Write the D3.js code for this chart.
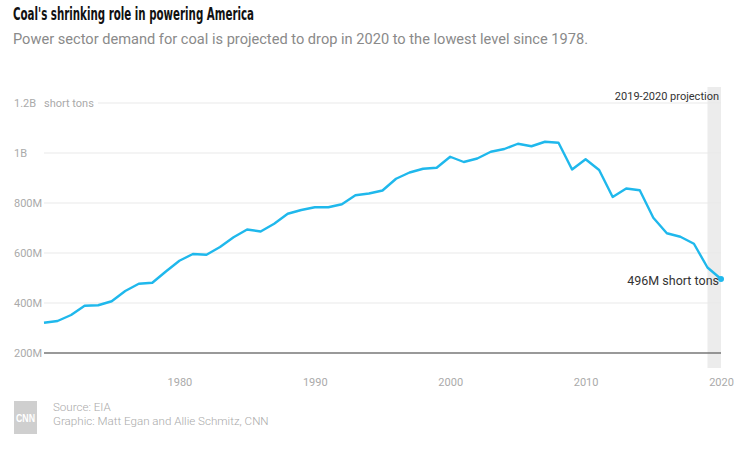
<!DOCTYPE html>
<html>
<head>
<meta charset="utf-8">
<script src="https://cdn.jsdelivr.net/npm/d3@7/dist/d3.min.js"></script>
<style>
  html, body { margin: 0; padding: 0; background: #fff; }
  svg { display: block; }
</style>
</head>
<body>
<svg id="chart" width="740" height="453"></svg>
<script>
// ---- Data (million short tons, power sector coal consumption) ----
const years = d3.range(1970, 2021);
const values = [
  321, 328, 352, 389, 391, 407, 448, 477, 481, 526,
  569, 596, 593, 624, 663, 694, 686, 717, 757, 772,
  783, 783, 795, 831, 838, 850, 897, 922, 937, 941,
  985, 964, 978, 1005, 1016, 1037, 1027, 1045, 1041, 934,
  975, 932, 824, 858, 851, 741, 679, 665, 637, 542,
  496
];
const yTicks = [200, 400, 600, 800, 1000, 1200];
const yTickLabels = ["200M", "400M", "600M", "800M", "1B", "1.2B"];
const xTicks = [1980, 1990, 2000, 2010, 2020];
const projectionStart = 2019;
const projectionEnd = 2020;

const title = "Coal's shrinking role in powering America";
const subtitle = "Power sector demand for coal is projected to drop in 2020 to the lowest level since 1978.";
const unitLabel = "short tons";
const projectionLabel = "2019-2020 projection";
const endLabel = "496M short tons";
const sourceLines = ["Source: EIA", "Graphic: Matt Egan and Allie Schmitz, CNN"];

const data = years.map((yr, i) => ({ year: yr, value: values[i] }));

(function () {
// ---- Layout ----
const svg = d3.select("#chart");
const mLeft = 44, mRight = 721, mTop = 103, mBottom = 353;
const x = d3.scaleLinear().domain([1970, 2020]).range([mLeft, mRight]);
const y = d3.scaleLinear().domain([200, 1200]).range([mBottom, mTop]);

const font = "Roboto, 'Noto Sans', sans-serif";

// Title & subtitle
svg.append("text")
  .attr("x", 13).attr("y", 20)
  .attr("font-family", "'Liberation Sans Narrow', 'DejaVu Sans Condensed', sans-serif")
  .attr("font-weight", "bold").attr("font-size", 17)
  .attr("fill", "#111")
  .attr("textLength", 241).attr("lengthAdjust", "spacingAndGlyphs")
  .text(title);

svg.append("text")
  .attr("x", 13).attr("y", 44)
  .attr("font-family", font)
  .attr("font-size", 14.5)
  .attr("fill", "#8a8a8a")
  .attr("textLength", 575).attr("lengthAdjust", "spacingAndGlyphs")
  .text(subtitle);

// Projection band
svg.append("rect")
  .attr("x", x(projectionStart)).attr("y", 87)
  .attr("width", x(projectionEnd) - x(projectionStart)).attr("height", 368 - 87)
  .attr("fill", "#ececec");

// Gridlines
const grid = svg.append("g");
yTicks.forEach((t) => {
  if (t === 200) return;
  grid.append("line")
    .attr("x1", t === 1200 ? 98 : mLeft).attr("x2", mRight)
    .attr("y1", y(t)).attr("y2", y(t))
    .attr("stroke", "#e9e9e9").attr("stroke-width", 1);
});

// Y axis labels (via d3 axis)
const yAxis = d3.axisLeft(y).tickValues(yTicks)
  .tickFormat((d, i) => yTickLabels[i]).tickSize(0).tickPadding(0);
const gy = svg.append("g").attr("transform", "translate(14,0)").call(yAxis);
gy.select(".domain").remove();
gy.selectAll("text")
  .attr("text-anchor", "start").attr("x", 0)
  .attr("font-family", font).attr("font-size", 11)
  .attr("fill", "#aaa");

svg.append("text")
  .attr("x", 44).attr("y", y(1200)).attr("dy", "0.32em")
  .attr("font-family", font).attr("font-size", 11)
  .attr("fill", "#aaa")
  .text(unitLabel);

// Baseline
svg.append("line")
  .attr("x1", mLeft).attr("x2", mRight)
  .attr("y1", y(200)).attr("y2", y(200))
  .attr("stroke", "#777").attr("stroke-width", 1.5);

// X axis
const xAxis = d3.axisBottom(x).tickValues(xTicks).tickFormat(d3.format("d"))
  .tickSize(0).tickPadding(0);
const gx = svg.append("g").attr("transform", "translate(0,378)").call(xAxis);
gx.select(".domain").remove();
gx.selectAll("text")
  .attr("font-family", font).attr("font-size", 11)
  .attr("fill", "#aaa");

// Line
const line = d3.line().x(d => x(d.year)).y(d => y(d.value));
svg.append("path")
  .datum(data)
  .attr("d", line)
  .attr("fill", "none")
  .attr("stroke", "#1fb8ec")
  .attr("stroke-width", 2.4)
  .attr("stroke-linejoin", "round");

const last = data[data.length - 1];
svg.append("circle")
  .attr("cx", x(last.year)).attr("cy", y(last.value)).attr("r", 3)
  .attr("fill", "#1fb8ec");

// Annotations
svg.append("text")
  .attr("x", 719).attr("y", y(last.value) + 6)
  .attr("text-anchor", "end")
  .attr("font-family", font).attr("font-size", 12.5)
  .attr("fill", "#333")
  .text(endLabel);

svg.append("text")
  .attr("x", 719).attr("y", 100)
  .attr("text-anchor", "end")
  .attr("font-family", font).attr("font-size", 11)
  .attr("fill", "#333")
  .text(projectionLabel);

// Footer: CNN logo + source
svg.append("rect")
  .attr("x", 14).attr("y", 401).attr("width", 23).attr("height", 33)
  .attr("fill", "#cfcfcf");
svg.append("text")
  .attr("x", 25.5).attr("y", 421.5)
  .attr("text-anchor", "middle")
  .attr("font-family", "'Liberation Sans Narrow', sans-serif")
  .attr("font-weight", "bold").attr("font-size", 11)
  .attr("fill", "#fff")
  .attr("textLength", 19).attr("lengthAdjust", "spacingAndGlyphs")
  .text("CNN");

sourceLines.forEach((s, i) => {
  svg.append("text")
    .attr("x", 53).attr("y", 411 + i * 14)
    .attr("font-family", font).attr("font-size", 11.6)
    .attr("font-weight", 300)
    .attr("fill", "#aaa")
    .text(s);
});
})();
</script>
</body>
</html>
